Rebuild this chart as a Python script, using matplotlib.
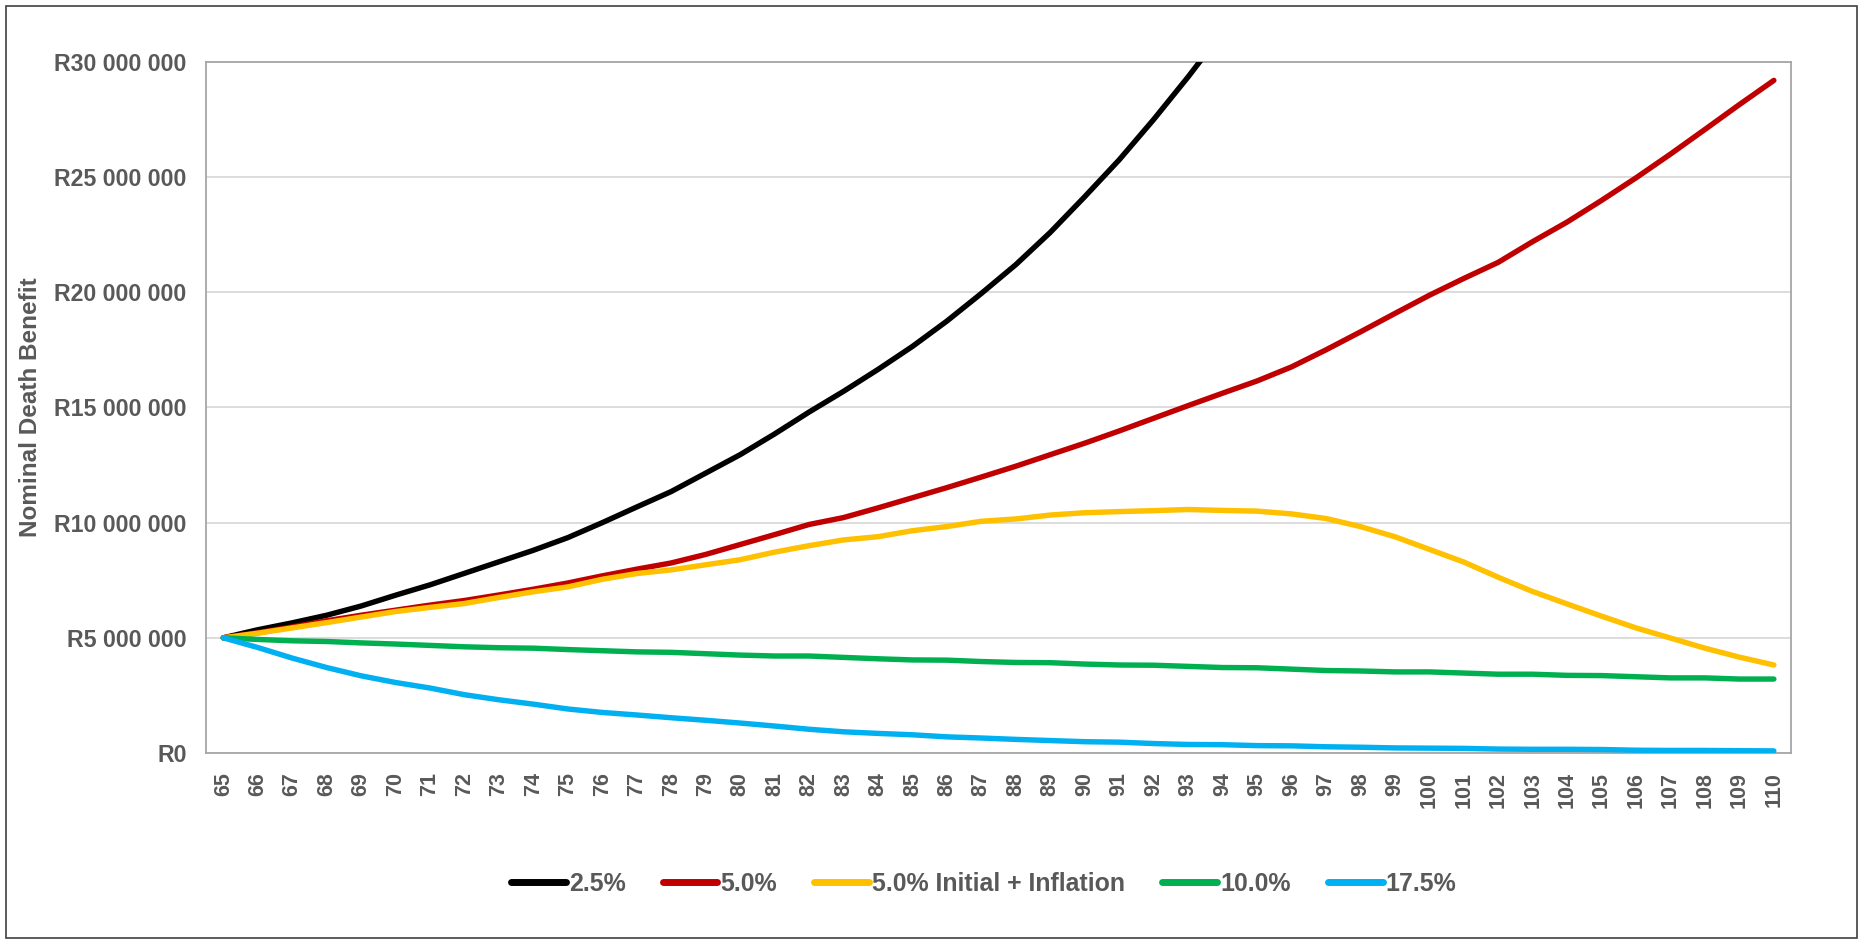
import matplotlib
matplotlib.use("Agg")
import matplotlib.pyplot as plt
from matplotlib import font_manager
from matplotlib.ticker import FuncFormatter
from matplotlib.patches import Rectangle

# ---- data (values in millions of Rand) ----
ages = [65, 66, 67, 68, 69, 70, 71, 72, 73, 74, 75, 76, 77, 78, 79, 80, 81, 82, 83, 84, 85, 86, 87,
        88, 89, 90, 91, 92, 93, 94, 95, 96, 97, 98, 99, 100, 101, 102, 103, 104, 105, 106, 107,
        108, 109, 110]

series_names = ["2.5%", "5.0%", "5.0% Initial + Inflation", "10.0%", "17.5%"]

rate_2_5 = [5.00, 5.35, 5.65, 5.98, 6.38, 6.85, 7.30, 7.80, 8.30, 8.80, 9.35, 10.00, 10.68, 11.35,
            12.15, 12.95, 13.85, 14.80, 15.70, 16.65, 17.65, 18.75, 19.95, 21.20, 22.60, 24.15,
            25.75, 27.50, 29.35, 31.30]

rate_5_0 = [5.00, 5.22, 5.47, 5.74, 5.98, 6.20, 6.42, 6.62, 6.86, 7.11, 7.38, 7.69, 7.98, 8.25,
            8.62, 9.05, 9.48, 9.92, 10.22, 10.64, 11.08, 11.52, 11.98, 12.45, 12.95, 13.45, 13.98,
            14.53, 15.08, 15.62, 16.15, 16.76, 17.50, 18.28, 19.08, 19.87, 20.60, 21.30, 22.20,
            23.05, 23.99, 24.97, 26.00, 27.07, 28.15, 29.20]

rate_5_0_infl = [5.00, 5.20, 5.43, 5.66, 5.90, 6.14, 6.32, 6.49, 6.75, 7.00, 7.21, 7.54, 7.79, 7.95,
                 8.17, 8.39, 8.72, 9.00, 9.25, 9.39, 9.65, 9.83, 10.06, 10.16, 10.33, 10.43, 10.48,
                 10.52, 10.57, 10.53, 10.50, 10.38, 10.18, 9.83, 9.39, 8.84, 8.29, 7.63, 7.01, 6.47,
                 5.94, 5.43, 4.99, 4.55, 4.16, 3.82]

rate_10_0 = [5.00, 4.93, 4.87, 4.84, 4.78, 4.73, 4.67, 4.61, 4.57, 4.55, 4.49, 4.44, 4.39, 4.37,
             4.31, 4.25, 4.21, 4.21, 4.15, 4.09, 4.04, 4.03, 3.97, 3.93, 3.92, 3.86, 3.82, 3.81,
             3.76, 3.71, 3.70, 3.64, 3.58, 3.56, 3.52, 3.52, 3.47, 3.42, 3.42, 3.37, 3.36, 3.31,
             3.26, 3.26, 3.21, 3.21]

rate_17_5 = [5.00, 4.58, 4.12, 3.71, 3.35, 3.06, 2.82, 2.53, 2.31, 2.12, 1.91, 1.76, 1.65, 1.53,
             1.42, 1.30, 1.17, 1.03, 0.92, 0.85, 0.79, 0.70, 0.65, 0.59, 0.54, 0.49, 0.47, 0.41,
             0.37, 0.36, 0.32, 0.31, 0.27, 0.25, 0.22, 0.21, 0.20, 0.17, 0.16, 0.16, 0.15, 0.12,
             0.11, 0.11, 0.10, 0.09]

y_ticks = [0, 5, 10, 15, 20, 25, 30]
colors = ["#000000", "#C00000", "#FFC000", "#00B050", "#00B0F0"]

# ---- fonts ----
avail = {f.name for f in font_manager.fontManager.ttflist}
narrow = "Liberation Sans Narrow" if "Liberation Sans Narrow" in avail else "Liberation Sans"
label_font = "Liberation Sans"
grey = "#595959"
tick_size = 18.5 if narrow == "Liberation Sans Narrow" else 16.7
leg_size = 19.5 if narrow == "Liberation Sans Narrow" else 17.9

fig = plt.figure(figsize=(18.63, 9.43), dpi=100)
ax = fig.add_axes([0.1106, 0.2015, 0.9614 - 0.1106, 0.9343 - 0.2015])

all_series = [rate_2_5, rate_5_0, rate_5_0_infl, rate_10_0, rate_17_5]
for name, vals, c in zip(series_names, all_series, colors):
    ax.plot(ages[:len(vals)], [v * 1e6 for v in vals], color=c, lw=3.9,
            solid_capstyle="round", solid_joinstyle="round", label=name, zorder=3)

ax.set_xlim(64.5, 110.5)
ax.set_ylim(0, 30e6)
ax.set_yticks([v * 1e6 for v in y_ticks])
ax.yaxis.set_major_formatter(FuncFormatter(lambda v, p: "R" + f"{int(round(v)):,}".replace(",", " ")))
ax.set_xticks(ages)
ax.set_xticklabels([str(a) for a in ages], rotation=90, fontsize=15.5, color=grey,
                   family=label_font, fontweight="bold")
for lab in ax.get_yticklabels():
    lab.set_fontsize(tick_size)
    lab.set_family(narrow)
    lab.set_fontweight("bold")
    lab.set_color(grey)
ax.tick_params(axis="both", length=0)
ax.tick_params(axis="y", pad=14)
ax.tick_params(axis="x", pad=14)

ax.grid(axis="y", color="#D9D9D9", lw=1.3, zorder=0)
for s in ax.spines.values():
    s.set_color("#A6A6A6")
    s.set_linewidth(1.3)

fig.text(0.0165, (1 - 753 / 943 + 1 - 62 / 943) / 2, "Nominal Death Benefit", rotation=90,
         ha="center", va="center", fontsize=17.5, color=grey, family=label_font, fontweight="bold")

leg = fig.legend(loc="center", bbox_to_anchor=(0.528, 1 - 884 / 943), ncol=5, frameon=False,
                 handlelength=2.2, handletextpad=0.12, columnspacing=1.5,
                 prop={"family": narrow, "weight": "bold", "size": leg_size})
for t in leg.get_texts():
    t.set_color(grey)
for h in leg.get_lines():
    h.set_linewidth(5)
    h.set_solid_capstyle("round")

fig.patches.append(Rectangle((6 / 1863, 1 - 938 / 943), (1857 - 6) / 1863, (938 - 6) / 943,
                             transform=fig.transFigure, fill=False, edgecolor="#404040", lw=1.2))

fig.savefig("out.png", dpi=100)
